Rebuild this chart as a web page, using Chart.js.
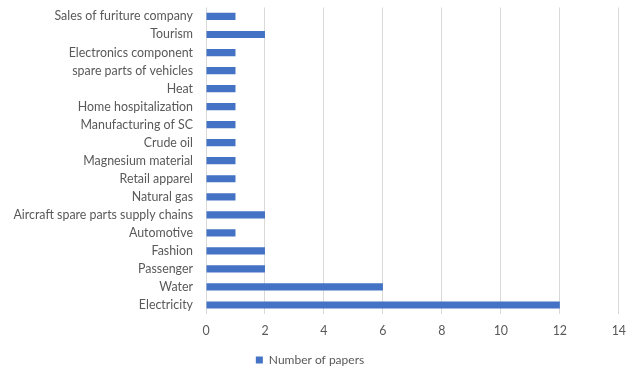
<!DOCTYPE html>
<html lang="en">
<head>
    <meta charset="UTF-8">
    <title>Number of papers</title>
    <script src="https://cdn.jsdelivr.net/npm/chart.js"></script>
    <style>
        html, body { margin: 0; padding: 0; background: #fff; }
        #wrap { width: 636px; height: 370px; }
    </style>
</head>
<body>
    <div id="wrap"><canvas id="papersChart"></canvas></div>

    <script>
        const categories = [
            'Sales of furiture company', 'Tourism', 'Electronics component',
            'spare parts of vehicles', 'Heat', 'Home hospitalization',
            'Manufacturing of SC', 'Crude oil', 'Magnesium material',
            'Retail apparel', 'Natural gas', 'Aircraft spare parts supply chains',
            'Automotive', 'Fashion', 'Passenger', 'Water', 'Electricity'
        ];
        const papers = [1, 2, 1, 1, 1, 1, 1, 1, 1, 1, 1, 2, 1, 2, 2, 6, 12];
        const xTicks = [0, 2, 4, 6, 8, 10, 12, 14];

        const textColor = '#595959';
        const fontFamily = 'Lato, "Liberation Sans", sans-serif';

        new Chart(document.getElementById('papersChart'), {
            type: 'bar',
            data: {
                labels: categories,
                datasets: [{
                    label: 'Number of papers',
                    data: papers,
                    backgroundColor: '#4472c4',
                    barPercentage: 0.4,
                    categoryPercentage: 1.0
                }]
            },
            options: {
                indexAxis: 'y',
                responsive: true,
                maintainAspectRatio: false,
                animation: false,
                layout: { padding: { top: 1, right: 16, bottom: -6, left: 0 } },
                plugins: {
                    legend: {
                        position: 'bottom',
                        labels: {
                            color: textColor,
                            font: { family: fontFamily, size: 12 },
                            boxWidth: 7,
                            boxHeight: 7,
                            padding: 2
                        }
                    },
                    tooltip: { enabled: false }
                },
                scales: {
                    x: {
                        min: 0,
                        max: 14,
                        afterBuildTicks: axis => { axis.ticks = xTicks.map(v => ({ value: v })); },
                        grid: { color: '#d9d9d9', lineWidth: 1, drawTicks: false },
                        border: { display: false },
                        ticks: { color: textColor, font: { family: fontFamily, size: 12.4 }, padding: 10 },
                        afterFit: axis => { axis.height = 38; }
                    },
                    y: {
                        // tick marks are hidden; their length only spaces the labels from the axis
                        grid: { display: false, drawTicks: true, tickLength: 13 },
                        border: { display: false },
                        ticks: { color: textColor, font: { family: fontFamily, size: 12.4 }, padding: 0, autoSkip: false },
                        afterFit: axis => { axis.width = 206; }
                    }
                }
            }
        });
    </script>
</body>
</html>
